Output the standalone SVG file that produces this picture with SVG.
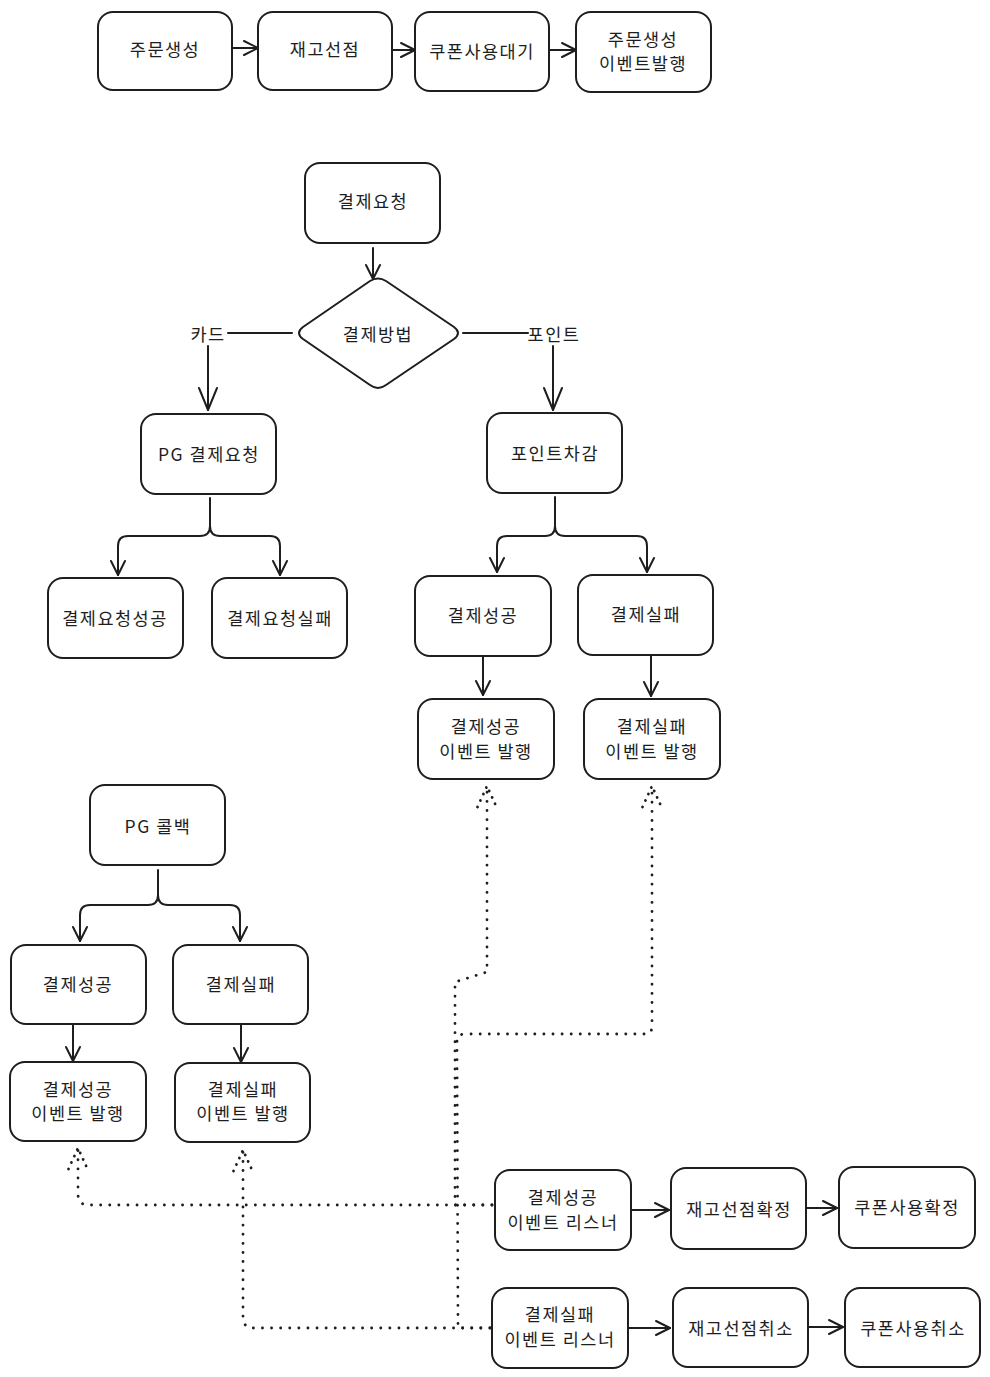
<svg xmlns="http://www.w3.org/2000/svg" width="990" height="1377" viewBox="0 0 990 1377">
<style>
.box{fill:#fff;stroke:#1e1e1e;stroke-width:2}
.t{font-family:"Noto Sans CJK KR","Noto Sans",sans-serif;font-size:17.5px;fill:#1e1e1e;text-anchor:middle;dominant-baseline:central;letter-spacing:1.5px}
.c{fill:none;stroke:#1e1e1e;stroke-width:2;stroke-linecap:round;stroke-linejoin:round}
.d{fill:none;stroke:#1e1e1e;stroke-width:2.8;stroke-dasharray:0.1 9;stroke-linecap:round;stroke-linejoin:round}
</style>
<defs>
<marker id="a" markerUnits="userSpaceOnUse" viewBox="-16 -9 18 18" refX="0" refY="0" markerWidth="18" markerHeight="18" orient="auto" overflow="visible">
<path d="M -14 -7 L 0 0 L -14 7" fill="none" stroke="#1e1e1e" stroke-width="2" stroke-linecap="round" stroke-linejoin="round"/>
</marker>
<marker id="aL" markerUnits="userSpaceOnUse" viewBox="-24 -11 26 22" refX="0" refY="0" markerWidth="26" markerHeight="22" orient="auto" overflow="visible">
<path d="M -22 -9 L 0 0 L -22 9" fill="none" stroke="#1e1e1e" stroke-width="2" stroke-linecap="round" stroke-linejoin="round"/>
</marker>
<marker id="ad" markerUnits="userSpaceOnUse" viewBox="-24 -11 26 22" refX="0" refY="0" markerWidth="26" markerHeight="22" orient="auto" overflow="visible">
<path d="M -21 -9.5 L 0 0 L -21 9.5" fill="none" stroke="#1e1e1e" stroke-width="2.8" stroke-dasharray="0.1 7" stroke-linecap="round"/>
</marker>
</defs>
<rect width="990" height="1377" fill="#fff"/>

<g id="connectors">
<path class="c" d="M232 48 L258 48" marker-end="url(#a)"/>
<path class="c" d="M392 50 L415 50" marker-end="url(#a)"/>
<path class="c" d="M549 50 L576 50" marker-end="url(#a)"/>
<path class="c" d="M373 248 L373 279" marker-end="url(#a)"/>
<path class="c" d="M292 333 L228 333"/>
<path class="c" d="M208 346 L208 410" marker-end="url(#aL)"/>
<path class="c" d="M463 333 L528 333"/>
<path class="c" d="M553 346 L553 410" marker-end="url(#aL)"/>
<path class="c" d="M210 498 L210 526 Q210 536 200 536 L128 536 Q118 536 118 546 L118 575" marker-end="url(#a)"/>
<path class="c" d="M210 526 Q210 536 220 536 L270 536 Q280 536 280 546 L280 575" marker-end="url(#a)"/>
<path class="c" d="M555 497 L555 526 Q555 536 545 536 L507 536 Q497 536 497 546 L497 572" marker-end="url(#a)"/>
<path class="c" d="M555 526 Q555 536 565 536 L637 536 Q647 536 647 546 L647 572" marker-end="url(#a)"/>
<path class="c" d="M483 656 L483 695" marker-end="url(#a)"/>
<path class="c" d="M651 656 L651 696" marker-end="url(#a)"/>
<path class="c" d="M158 870 L158 895 Q158 905 148 905 L90 905 Q80 905 80 915 L80 941" marker-end="url(#a)"/>
<path class="c" d="M158 895 Q158 905 168 905 L230 905 Q240 905 240 915 L240 941" marker-end="url(#a)"/>
<path class="c" d="M73 1024 L73 1061" marker-end="url(#a)"/>
<path class="c" d="M241 1025 L241 1062" marker-end="url(#a)"/>
<path class="c" d="M631 1210 L669 1210" marker-end="url(#a)"/>
<path class="c" d="M806 1208 L837 1208" marker-end="url(#a)"/>
<path class="c" d="M628 1328 L670 1328" marker-end="url(#a)"/>
<path class="c" d="M808 1327 L843 1327" marker-end="url(#a)"/>
<path class="d" d="M492 1205 L455 1205 L455 982 L487 972 L487 786" marker-end="url(#ad)"/>
<path class="d" d="M492 1205 L88 1205 Q79 1205 78 1195 L78 1148" marker-end="url(#ad)"/>
<path class="d" d="M490 1328 L458 1328 L457 1042 Q457 1034 465 1034 L645 1034 Q652 1034 652 1026 L652 786" marker-end="url(#ad)"/>
<path class="d" d="M490 1328 L252 1328 Q244 1328 243 1318 L243 1150" marker-end="url(#ad)"/>
<text class="t" x="208" y="333">카드</text>
<text class="t" x="554" y="333">포인트</text>
</g>

<g id="n1"><rect class="box" x="98" y="12" width="134" height="78" rx="15"/><text class="t" x="165" y="48">주문생성</text></g>
<g id="n2"><rect class="box" x="258" y="12" width="134" height="78" rx="15"/><text class="t" x="325" y="48">재고선점</text></g>
<g id="n3"><rect class="box" x="415" y="12" width="134" height="79" rx="15"/><text class="t" x="482" y="50">쿠폰사용대기</text></g>
<g id="n4"><rect class="box" x="576" y="12" width="135" height="80" rx="15"/><text class="t" x="643" y="38">주문생성</text><text class="t" x="643" y="62">이벤트발행</text></g>
<g id="n5"><rect class="box" x="305" y="163" width="135" height="80" rx="15"/><text class="t" x="373" y="200">결제요청</text></g>
<g id="n6"><path class="box" d="M303 327 L370 281 Q378 276 386 281 L454 327 Q462 333 454 339 L386 385 Q378 391 370 385 L303 339 Q295 333 303 327 Z"/><text class="t" x="378" y="333">결제방법</text></g>
<g id="n7"><rect class="box" x="141" y="414" width="135" height="80" rx="15"/><text class="t" x="209" y="453">PG 결제요청</text></g>
<g id="n8"><rect class="box" x="487" y="413" width="135" height="80" rx="15"/><text class="t" x="555" y="452">포인트차감</text></g>
<g id="n9"><rect class="box" x="48" y="578" width="135" height="80" rx="15"/><text class="t" x="115" y="617">결제요청성공</text></g>
<g id="n10"><rect class="box" x="212" y="578" width="135" height="80" rx="15"/><text class="t" x="280" y="617">결제요청실패</text></g>
<g id="n11"><rect class="box" x="415" y="576" width="136" height="80" rx="15"/><text class="t" x="483" y="614">결제성공</text></g>
<g id="n12"><rect class="box" x="578" y="575" width="135" height="80" rx="15"/><text class="t" x="646" y="613">결제실패</text></g>
<g id="n13"><rect class="box" x="418" y="699" width="136" height="80" rx="15"/><text class="t" x="486" y="725">결제성공</text><text class="t" x="486" y="750">이벤트 발행</text></g>
<g id="n14"><rect class="box" x="584" y="699" width="136" height="80" rx="15"/><text class="t" x="652" y="725">결제실패</text><text class="t" x="652" y="750">이벤트 발행</text></g>
<g id="n15"><rect class="box" x="90" y="785" width="135" height="80" rx="15"/><text class="t" x="158" y="825">PG 콜백</text></g>
<g id="n16"><rect class="box" x="11" y="945" width="135" height="79" rx="15"/><text class="t" x="78" y="983">결제성공</text></g>
<g id="n17"><rect class="box" x="173" y="945" width="135" height="79" rx="15"/><text class="t" x="241" y="983">결제실패</text></g>
<g id="n18"><rect class="box" x="10" y="1062" width="136" height="79" rx="15"/><text class="t" x="78" y="1088">결제성공</text><text class="t" x="78" y="1112">이벤트 발행</text></g>
<g id="n19"><rect class="box" x="175" y="1063" width="135" height="79" rx="15"/><text class="t" x="243" y="1088">결제실패</text><text class="t" x="243" y="1112">이벤트 발행</text></g>
<g id="n20"><rect class="box" x="495" y="1170" width="136" height="80" rx="15"/><text class="t" x="563" y="1196">결제성공</text><text class="t" x="563" y="1221">이벤트 리스너</text></g>
<g id="n21"><rect class="box" x="671" y="1168" width="135" height="81" rx="15"/><text class="t" x="739" y="1208">재고선점확정</text></g>
<g id="n22"><rect class="box" x="839" y="1167" width="136" height="81" rx="15"/><text class="t" x="907" y="1206">쿠폰사용확정</text></g>
<g id="n23"><rect class="box" x="492" y="1288" width="136" height="80" rx="15"/><text class="t" x="560" y="1313">결제실패</text><text class="t" x="560" y="1338">이벤트 리스너</text></g>
<g id="n24"><rect class="box" x="673" y="1288" width="135" height="79" rx="15"/><text class="t" x="741" y="1327">재고선점취소</text></g>
<g id="n25"><rect class="box" x="845" y="1288" width="135" height="79" rx="15"/><text class="t" x="913" y="1327">쿠폰사용취소</text></g>
</svg>
